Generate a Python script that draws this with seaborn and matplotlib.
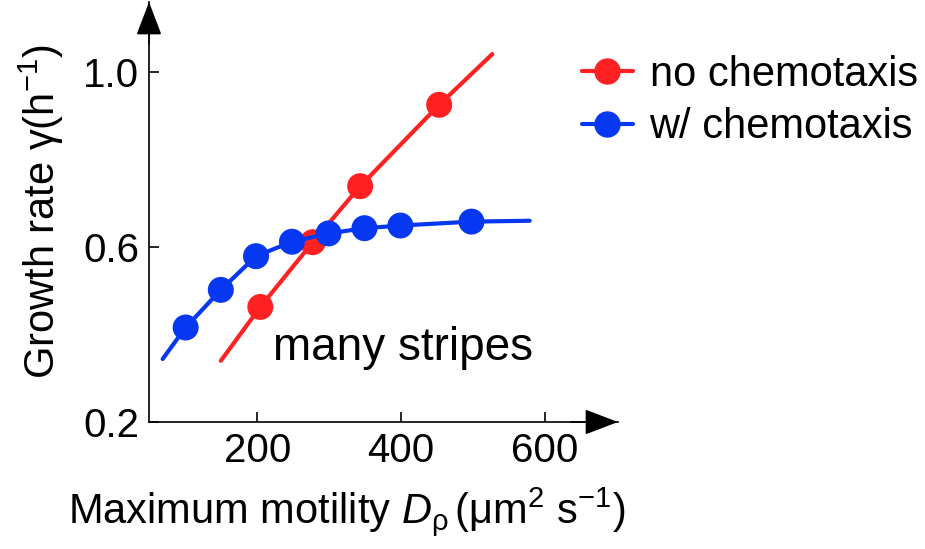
import numpy as np
import pandas as pd
import matplotlib
matplotlib.use('Agg')
import matplotlib.pyplot as plt
from matplotlib.lines import Line2D
import seaborn as sns

# values
red_pts_x = [204, 277, 343, 453]
red_pts_y = [0.463, 0.611, 0.739, 0.925]
red_line_x = [149, 204, 277, 343, 453, 527]
red_line_y = [0.340, 0.463, 0.611, 0.739, 0.925, 1.041]

blue_pts_x = [100, 149, 198, 248, 299, 349, 399, 498]
blue_pts_y = [0.416, 0.502, 0.579, 0.612, 0.631, 0.643, 0.649, 0.658]
blue_line_x = [68, 100, 149, 198, 248, 299, 349, 399, 498, 579]
blue_line_y = [0.344, 0.416, 0.502, 0.579, 0.612, 0.631, 0.643, 0.649, 0.658, 0.660]

x_ticks = [200, 400, 600]
y_ticks = [0.2, 0.6, 1.0]
y_tick_labels = ['0.2', '0.6', '1.0']
series_labels = ['no chemotaxis', 'w/ chemotaxis']

RED = '#FF2121'
BLUE = '#0638F2'

sns.set_style('white')
plt.rcParams['font.family'] = ['Liberation Sans', 'DejaVu Sans']
plt.rcParams['mathtext.fontset'] = 'custom'
plt.rcParams['mathtext.rm'] = 'Liberation Sans'
plt.rcParams['mathtext.it'] = 'Liberation Sans:italic'
plt.rcParams['mathtext.bf'] = 'Liberation Sans:bold'
plt.rcParams['text.color'] = 'black'
plt.rcParams['axes.labelcolor'] = 'black'

fig = plt.figure(figsize=(9.25, 5.49), dpi=100)
ax = fig.add_axes([149 / 925, 127 / 549, 469 / 925, 420 / 549])

# red series (drawn first so blue sits on top)
sns.lineplot(x=red_line_x, y=red_line_y, ax=ax, color=RED, lw=3, zorder=2)
sns.scatterplot(x=red_pts_x, y=red_pts_y, ax=ax, color=RED, s=350,
                edgecolor='none', zorder=3)
# blue series
sns.lineplot(x=blue_line_x, y=blue_line_y, ax=ax, color=BLUE, lw=3, zorder=4)
sns.scatterplot(x=blue_pts_x, y=blue_pts_y, ax=ax, color=BLUE, s=350,
                edgecolor='none', zorder=5)

ax.set_xlim(49, 702)
ax.set_ylim(0.2, 1.16)
ax.set_xticks(x_ticks)
ax.set_yticks(y_ticks)
ax.set_yticklabels(y_tick_labels)
ax.tick_params(axis='both', direction='in', length=7, width=1.2,
               labelsize=29, pad=7, colors='black', bottom=True, left=True)

for side in ['top', 'right']:
    ax.spines[side].set_visible(False)
for side in ['left', 'bottom']:
    ax.spines[side].set_linewidth(1.2)
    ax.spines[side].set_color('black')

# arrow heads on the axes
ax.annotate('', xy=(1, 0), xytext=(0.9, 0), xycoords='axes fraction',
            arrowprops=dict(arrowstyle='-|>,head_length=2.1,head_width=0.8',
                            color='black', lw=1.2, shrinkA=0, shrinkB=0,
                            mutation_scale=10))
ax.annotate('', xy=(0, 1), xytext=(0, 0.9), xycoords='axes fraction',
            arrowprops=dict(arrowstyle='-|>,head_length=2.1,head_width=0.8',
                            color='black', lw=1.2, shrinkA=0, shrinkB=0,
                            mutation_scale=10))

ax.set_ylabel(r'Growth rate γ(h$^{\mathrm{-1}}$)', fontsize=30, labelpad=12)
ax.set_xlabel(r'Maximum motility $D_{\mathrm{ρ}}\,$(μm$^{2}$ s$^{\mathrm{-1}}$)',
              fontsize=30)
ax.xaxis.set_label_coords(0.422, -0.15)

ax.text(221, 0.342, 'many stripes', fontsize=33, ha='left', va='baseline')

handles = [
    Line2D([], [], color=RED, lw=3, marker='o', markersize=18),
    Line2D([], [], color=BLUE, lw=3, marker='o', markersize=18),
]
fig.legend(handles, series_labels, loc='upper left',
           bbox_to_anchor=(582 / 925, 1 - 55 / 549), frameon=False,
           fontsize=30, handlelength=1.22, handletextpad=0.4,
           labelspacing=0.3, borderpad=0, borderaxespad=0)

fig.savefig('out.png', dpi=100)
